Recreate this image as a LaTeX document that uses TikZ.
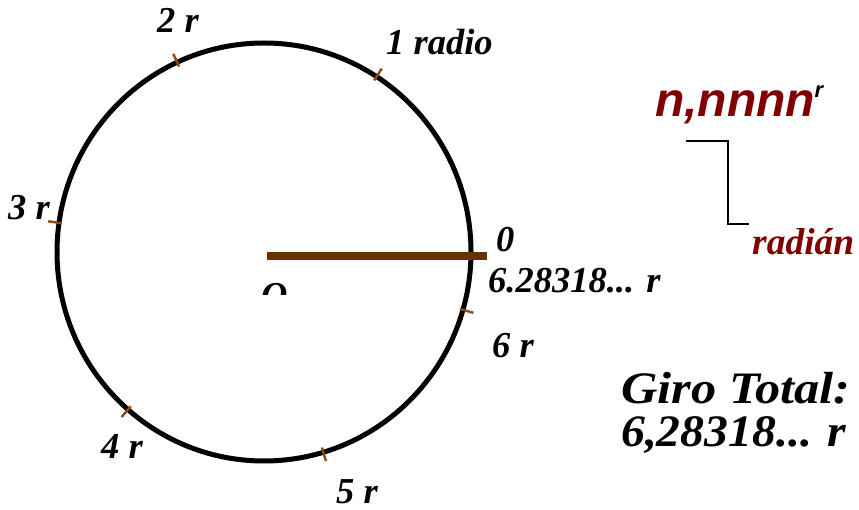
\documentclass[tikz,border=0pt]{standalone}
\usepackage{fontspec}
\usetikzlibrary{calc}
\setmainfont{Liberation Serif}
\newfontfamily\arialf{Liberation Sans}
\newfontfamily\wideserif[FakeStretch=1.12]{Liberation Serif}
\newfontfamily\midserif[FakeStretch=1.06]{Liberation Serif}
\definecolor{brownline}{HTML}{663300}
\definecolor{tickbrown}{HTML}{8B4A14}
\definecolor{darkred}{HTML}{800000}
\begin{document}
\begin{tikzpicture}[x=1pt,y=-1pt,
  lbl/.style={inner sep=0pt,anchor=base west,font=\fontsize{36.5}{40}\selectfont\bfseries\itshape},
  big/.style={inner sep=0pt,anchor=base west,font=\wideserif\fontsize{45}{48}\selectfont\bfseries\itshape},
  bigb/.style={inner sep=0pt,anchor=base west,font=\midserif\fontsize{45}{48}\selectfont\bfseries\itshape},
  tickmark/.style={draw=tickbrown,line width=2.4pt},
  bracket/.style={draw=black,line width=1.3pt}]
\useasboundingbox (0,0) rectangle (859,510);
\coordinate (c) at (264,252);
\draw[line width=5pt] (c) ellipse [x radius=207, y radius=209];
% ticks
\foreach \k/\a in {t1/57.3,t2/114.6,t3/171.9,t4/229.2,t5/286.5,t6/343.8}{
  \coordinate (\k a) at ($(c)+(-\a:204)$);
  \coordinate (\k b) at ($(c)+(-\a:218)$);
  \draw[tickmark] (\k a) -- (\k b);
}
% radius
\coordinate (r0) at (267,256.5);
\coordinate (r1) at (487,256.5);
\draw[draw=brownline,line width=8pt] (r0) -- (r1);
% labels
\node[lbl] (l2) at (157,33) {2 r};
\node[lbl] (l1) at (386,55) {1 radio};
\node[lbl] (l3) at (8,220) {3 r};
\node[lbl] (l0) at (496,252) {0};
\node[lbl] (lt) at (488,293) {6.28318... r};
\node[lbl] (l6) at (492,357) {6 r};
\node[lbl] (l4) at (101,458) {4 r};
\node[lbl] (l5) at (336,503) {5 r};
\begin{scope}
\clip (240,260) rectangle (300,295);
\node[lbl] (lo) at (261,308) {O};
\end{scope}
% giro total
\node[big] (g1) at (621,403) {Giro Total:};
\node[bigb] (g2) at (621,446) {6,28318... r};
% n,nnnn
\node[inner sep=0pt,anchor=base west,text=darkred,font=\arialf\fontsize{48}{52}\selectfont\bfseries\itshape] (nn) at (655,117) {n,nnnn};
\node[inner sep=0pt,anchor=base west,font=\arialf\fontsize{22}{24}\selectfont\bfseries\itshape] (sup) at (nn.base east) [yshift=19pt,xshift=-1pt] {r};
\node[inner sep=0pt,anchor=base west,text=darkred,font=\fontsize{37.5}{40}\selectfont\bfseries\itshape] (rad) at (752,255) {radián};
\coordinate (b0) at (686,141);
\coordinate (b1) at (728,141);
\coordinate (b2) at (728,224);
\coordinate (b3) at (749,224);
\draw[bracket] (b0) -- (b1) -- (b2) -- (b3);
\end{tikzpicture}
\end{document}
